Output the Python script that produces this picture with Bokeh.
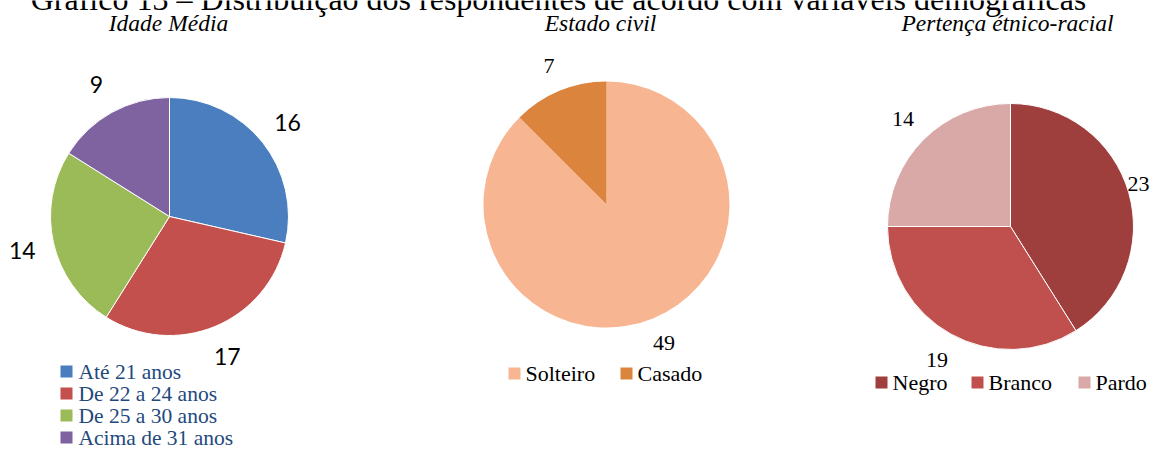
import math
from bokeh.plotting import figure
from bokeh.models import Range1d, ColumnDataSource
from bokeh.core.properties import value
from bokeh.embed import file_html
from bokeh.resources import INLINE

# ---------------- data ----------------
title_text = "Gráfico 13 – Distribuição dos respondentes de acordo com variáveis demográficas"

age_title = "Idade Média"
age_categories = ["Até 21 anos", "De 22 a 24 anos", "De 25 a 30 anos", "Acima de 31 anos"]
age_values = [16, 17, 14, 9]

civil_title = "Estado civil"
civil_categories = ["Solteiro", "Casado"]
civil_values = [49, 7]

race_title = "Pertença étnico-racial"
race_categories = ["Negro", "Branco", "Pardo"]
race_values = [23, 19, 14]

# ---------------- style ----------------
age_colors = ["#4A7EBF", "#C4504E", "#9BBB59", "#7F62A0"]
civil_colors = ["#F8B592", "#DB843D"]
race_colors = ["#9E3F3E", "#C0504D", "#D9A9A8"]

W, H = 1151, 450


def X(px):
    return px


def Y(py):
    return H - py


p = figure(width=W, height=H, output_backend="svg", toolbar_location=None,
           x_range=Range1d(0, W), y_range=Range1d(0, H),
           x_axis_location=None, y_axis_location=None)
p.min_border = 0
p.min_border_left = p.min_border_right = p.min_border_top = p.min_border_bottom = 0
p.xgrid.visible = False
p.ygrid.visible = False
p.outline_line_color = None
p.background_fill_color = "white"
p.border_fill_color = "white"

SERIF = value("Liberation Serif")


def draw_pie(cx, cy, r, vals, colors, label_dist, label_font, label_size, line_color):
    total = float(sum(vals))
    fs = float(label_size.replace("px", ""))
    starts, ends, lx, ly = [], [], [], []
    cum = 0.0
    for v in vals:
        a0 = cum / total
        cum += v
        a1 = cum / total
        starts.append(math.pi / 2 - 2 * math.pi * a0)
        ends.append(math.pi / 2 - 2 * math.pi * a1)
        mid = 2 * math.pi * (a0 + a1) / 2
        x = X(cx) + label_dist * math.sin(mid)
        half = len(str(v)) * 0.5 * fs / 2
        x = min(x, W - half - 2)  # keep the label inside the canvas
        lx.append(x)
        ly.append(Y(cy) + label_dist * math.cos(mid))
    src = ColumnDataSource(dict(start=starts, end=ends, color=colors,
                                lx=lx, ly=ly, lab=[str(v) for v in vals]))
    p.wedge(x=X(cx), y=Y(cy), radius=r, radius_units="screen",
            start_angle="start", end_angle="end", direction="clock",
            fill_color="color", line_color=line_color, line_width=1 if line_color else 0,
            source=src)
    p.text(x="lx", y="ly", text="lab", source=src, text_font=label_font,
           text_font_size=label_size, text_color="black",
           text_align="center", text_baseline="middle")


# title (clipped at the top like the reference)
p.text(x=[X(558)], y=[Y(-2)], text=[title_text], text_font=SERIF,
       text_font_size="32px", text_color="black", text_align="center",
       text_baseline="alphabetic")

# subtitles
p.text(x=[X(168), X(600), X(1007)], y=[Y(22)] * 3,
       text=[age_title, civil_title, race_title], text_font=SERIF,
       text_font_style="italic", text_font_size="23.5px", text_color="black",
       text_align="center", text_baseline="alphabetic")

# pies
draw_pie(169, 216, 119, age_values, age_colors, 151, value("Lato"), "23px", "white")
draw_pie(606, 204, 123, civil_values, civil_colors, 150, SERIF, "22px", None)
draw_pie(1010, 226, 123, race_values, race_colors, 152, SERIF, "22px", "white")

# legend 1 (vertical)
leg1_y = [Y(371 + 22 * i) for i in range(len(age_categories))]
p.rect(x=[X(66)] * len(age_categories), y=leg1_y, width=12, height=12,
       width_units="screen", height_units="screen",
       fill_color=age_colors, line_color=None)
p.text(x=[X(78)] * len(age_categories), y=leg1_y, text=age_categories,
       text_font=SERIF, text_font_size="21.5px", text_color="#1F497D",
       text_align="left", text_baseline="middle")

# legend 2 (horizontal)
p.rect(x=[X(514), X(626)], y=[Y(373)] * 2, width=12, height=12,
       width_units="screen", height_units="screen",
       fill_color=civil_colors, line_color=None)
p.text(x=[X(525), X(637)], y=[Y(373)] * 2, text=civil_categories,
       text_font=SERIF, text_font_size="22px", text_color="black",
       text_align="left", text_baseline="middle")

# legend 3 (horizontal)
p.rect(x=[X(881), X(977), X(1084)], y=[Y(382)] * 3, width=12, height=12,
       width_units="screen", height_units="screen",
       fill_color=race_colors, line_color=None)
p.text(x=[X(892), X(988), X(1095)], y=[Y(382)] * 3, text=race_categories,
       text_font=SERIF, text_font_size="22px", text_color="black",
       text_align="left", text_baseline="middle")

open("out.html", "w").write(file_html(p, INLINE))
